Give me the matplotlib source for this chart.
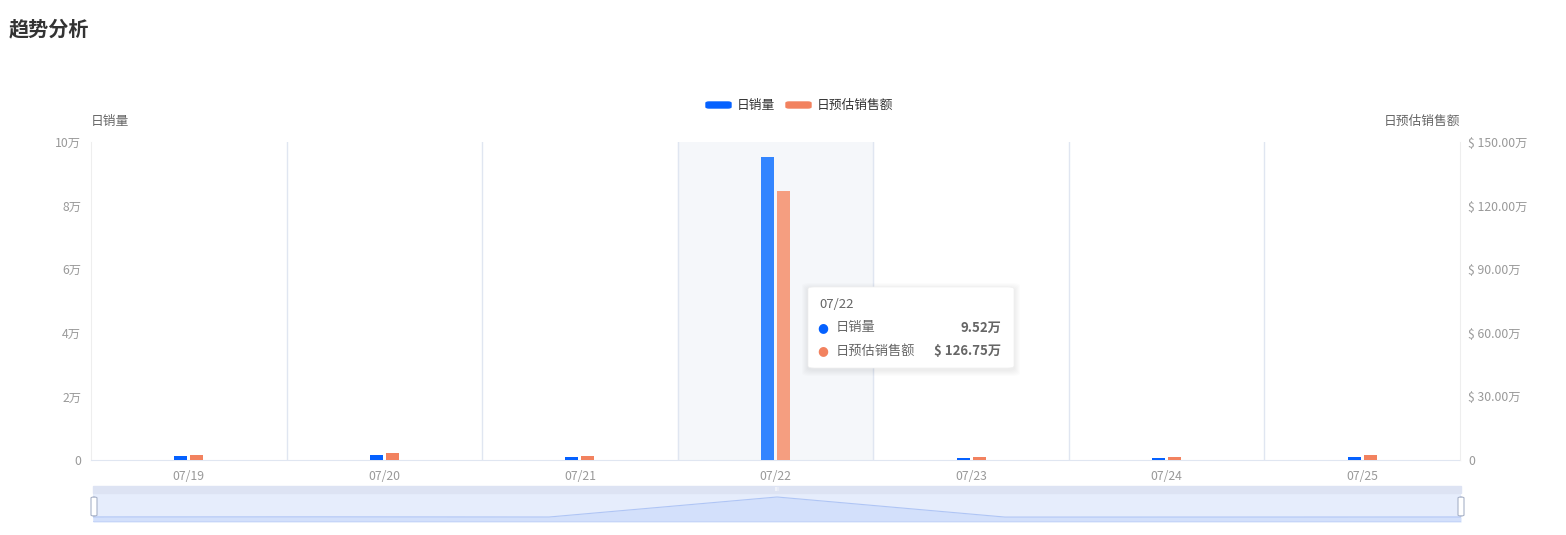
import numpy as np
import matplotlib.pyplot as plt
from matplotlib.patches import FancyBboxPatch, Rectangle

plt.rcParams['font.family'] = ['Noto Sans CJK SC', 'DejaVu Sans']

# data
dates = ["07/19", "07/20", "07/21", "07/22", "07/23", "07/24", "07/25"]
sales = [1200, 1600, 900, 95200, 600, 700, 1000]              # 日销量
revenue = [24000, 33000, 19000, 1267500, 14000, 16000, 22000]  # 日预估销售额 ($)
left_ticks = [0, 20000, 40000, 60000, 80000, 100000]
left_labels = ["0", "2万", "4万", "6万", "8万", "10万"]
right_ticks = [0, 300000, 600000, 900000, 1200000, 1500000]
right_labels = ["0", "$ 30.00万", "$ 60.00万", "$ 90.00万", "$ 120.00万", "$ 150.00万"]
hover = 3

W, H = 1566, 535
BLUE, ORANGE = "#0561FF", "#F2825F"
BLUE_HI, ORANGE_HI = "#3385FF", "#F59E80"


def fx(x):
    return x / W


def fy(y):
    return 1 - y / H


fig = plt.figure(figsize=(W / 100, H / 100), dpi=100)

fig.text(fx(9), fy(29), "趋势分析", fontsize=14.5, fontweight="bold",
         color="#333333", va="center", ha="left")

ax = fig.add_axes([fx(91), fy(460), fx(1460) - fx(91), fy(142) - fy(460)])
ax2 = ax.twinx()

x = np.arange(len(dates))
bw = 0.066
off = 0.041
blue_cols = [BLUE_HI if i == hover else BLUE for i in x]
orange_cols = [ORANGE_HI if i == hover else ORANGE for i in x]

ax.axvspan(hover - 0.5, hover + 0.5, color="#F5F7FA", zorder=0)
for b in np.arange(0.5, len(dates) - 1, 1.0):
    ax.axvline(b, color="#E0E6F1", lw=1, zorder=1)

ax.bar(x - off, sales, width=bw, color=blue_cols, zorder=3)
ax2.bar(x + off, revenue, width=bw, color=orange_cols, zorder=3)

ax.set_xlim(-0.5, len(dates) - 0.5)
ax.set_ylim(0, 100000)
ax2.set_ylim(0, 1500000)
ax.set_xticks(x)
ax.set_xticklabels(dates)
ax.set_yticks(left_ticks)
ax.set_yticklabels(left_labels)
ax2.set_yticks(right_ticks)
ax2.set_yticklabels(right_labels)

for a in (ax, ax2):
    for s in a.spines.values():
        s.set_visible(False)
    a.tick_params(length=0, colors="#999999", labelsize=8.8)
ax.spines["bottom"].set_visible(True)
ax.spines["bottom"].set_color("#E0E6F1")
ax.spines["left"].set_visible(True)
ax.spines["left"].set_color("#EEEEEE")
ax2.spines["right"].set_visible(True)
ax2.spines["right"].set_color("#EEEEEE")
ax.tick_params(axis="y", pad=7)
ax.tick_params(axis="x", pad=7)
ax2.tick_params(axis="y", pad=6)

# axis names
fig.text(fx(91), fy(121), "日销量", fontsize=9.2, color="#666666", ha="left", va="center")
fig.text(fx(1460), fy(121), "日预估销售额", fontsize=9.2, color="#666666", ha="right", va="center")

# legend
for x0, col, lab in [(706, BLUE, "日销量"), (786, ORANGE, "日预估销售额")]:
    fig.patches.append(FancyBboxPatch((fx(x0), fy(108)), fx(25), fy(102) - fy(108),
                                      boxstyle="round,pad=0,rounding_size=0.002",
                                      transform=fig.transFigure, color=col))
    fig.text(fx(x0 + 31), fy(105), lab, fontsize=9.2, color="#333333", ha="left", va="center")

# tooltip with soft shadow
for k in range(6, 0, -1):
    fig.patches.append(FancyBboxPatch((fx(808 - k), fy(370 + k)), fx(206 + 2 * k),
                                      fy(289 - k) - fy(370 + k),
                                      boxstyle="round,pad=0,rounding_size=0.005",
                                      transform=fig.transFigure, fc="#000000", ec="none",
                                      alpha=0.012, zorder=9))
tip = FancyBboxPatch((fx(808), fy(368)), fx(206), fy(287) - fy(368),
                     boxstyle="round,pad=0,rounding_size=0.004",
                     transform=fig.transFigure, fc="white", ec="#F0F0F0", lw=0.5, zorder=10)
fig.patches.append(tip)
fig.text(fx(819), fy(305), dates[hover], fontsize=9.5, color="#666666", va="center", zorder=11)
rows = [(328, BLUE, "日销量", "%.2f万" % (sales[hover] / 10000)),
        (351, ORANGE, "日预估销售额", "$ %.2f万" % (revenue[hover] / 10000))]
for yy, col, lab, val in rows:
    fig.text(fx(817), fy(yy), "●", fontsize=9, color=col, va="center", family="DejaVu Sans", zorder=11)
    fig.text(fx(836), fy(yy), lab, fontsize=9.5, color="#666666", va="center", zorder=11)
    fig.text(fx(1001), fy(yy), val, fontsize=9.5, color="#666666", fontweight="bold",
             va="center", ha="right", zorder=11)

# data zoom slider
sl = fig.add_axes([fx(93), fy(522), fx(1461) - fx(93), fy(493) - fy(522)])
sl.set_xlim(0, len(dates) - 1)
sl.set_ylim(-22600, 114000)
sl.set_facecolor("#E6EDFC")
sl.fill_between(x, -22600, sales, color="#D3E0FB", lw=0)
sl.plot(x, sales, color="#AFC5F5", lw=0.8)
sl.set_xticks([])
sl.set_yticks([])
for s in sl.spines.values():
    s.set_visible(False)
sl.axhline(-22600, color="#C5D4F8", lw=2)
fig.patches.append(Rectangle((fx(93), fy(493)), fx(1461) - fx(93), fy(486) - fy(493),
                             transform=fig.transFigure, color="#DDE3F3", zorder=5))
fig.text(fx(777), fy(489.5), "III", fontsize=4, color="white", ha="center", va="center", zorder=6,
         family="DejaVu Sans")
for hx in (91, 1458):
    fig.patches.append(FancyBboxPatch((fx(hx), fy(516)), fx(6), fy(497) - fy(516),
                                      boxstyle="round,pad=0,rounding_size=0.002",
                                      transform=fig.transFigure, fc="white", ec="#A8B2C8",
                                      lw=0.8, zorder=7))

fig.savefig("out.png", dpi=100)
